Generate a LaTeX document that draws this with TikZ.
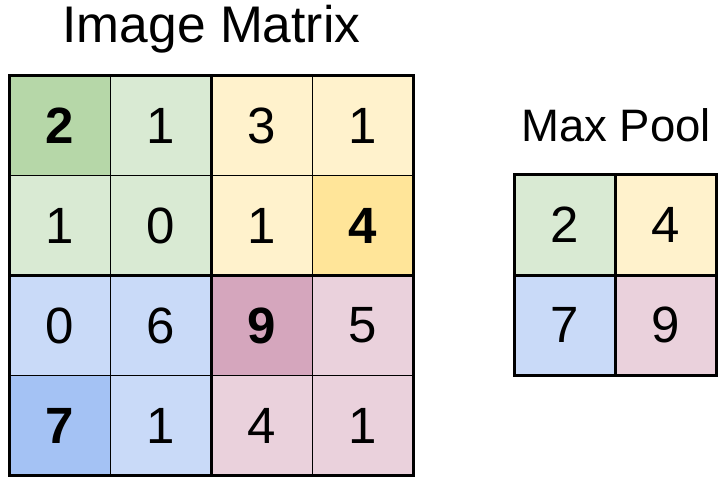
\documentclass[tikz,border=0pt]{standalone}
\usepackage{fontspec}
\setmainfont{Liberation Sans}
\definecolor{gA}{HTML}{D9EAD3}
\definecolor{gB}{HTML}{B6D7A8}
\definecolor{yA}{HTML}{FFF2CC}
\definecolor{yB}{HTML}{FFE599}
\definecolor{bA}{HTML}{C9DAF8}
\definecolor{bB}{HTML}{A4C2F4}
\definecolor{pA}{HTML}{EAD1DC}
\definecolor{pB}{HTML}{D5A6BD}
\begin{document}
\begin{tikzpicture}[x=1bp,y=-1bp,
  cell/.style={minimum width=101bp, minimum height=100bp, inner sep=0pt, outer sep=0pt,
    anchor=center, font=\fontsize{51bp}{60bp}\selectfont},
  thinline/.style={line width=1.5bp, black},
  thickline/.style={line width=3bp, black},
  title/.style={anchor=base, inner sep=0pt}]
\useasboundingbox (0,0) rectangle (725,488);
% image matrix
\node[cell, fill=gB] (m11) at (60,125.5) {\textbf{2}};
\node[cell, fill=gA] (m12) at (161,125.5) {1};
\node[cell, fill=yA] (m13) at (262,125.5) {3};
\node[cell, fill=yA] (m14) at (363,125.5) {1};
\node[cell, fill=gA] (m21) at (60,225.5) {1};
\node[cell, fill=gA] (m22) at (161,225.5) {0};
\node[cell, fill=yA] (m23) at (262,225.5) {1};
\node[cell, fill=yB] (m24) at (363,225.5) {\textbf{4}};
\node[cell, fill=bA] (m31) at (60,325.5) {0};
\node[cell, fill=bA] (m32) at (161,325.5) {6};
\node[cell, fill=pB] (m33) at (262,325.5) {\textbf{9}};
\node[cell, fill=pA] (m34) at (363,325.5) {5};
\node[cell, fill=bB] (m41) at (60,425.5) {\textbf{7}};
\node[cell, fill=bA] (m42) at (161,425.5) {1};
\node[cell, fill=pA] (m43) at (262,425.5) {4};
\node[cell, fill=pA] (m44) at (363,425.5) {1};
% thin grid lines
\draw[thinline] (m11.north east) -- (m41.south east);
\draw[thinline] (m13.north east) -- (m43.south east);
\draw[thinline] (m11.south west) -- (m14.south east);
\draw[thinline] (m31.south west) -- (m34.south east);
% thick lines
\draw[thickline] (m12.north east) -- (m42.south east);
\draw[thickline] (m21.south west) -- (m24.south east);
\draw[thickline] (m11.north west) rectangle (m44.south east);
% max pool
\node[cell, fill=gA] (p11) at (564.5,225) {2};
\node[cell, fill=yA] (p12) at (665.5,225) {4};
\node[cell, fill=bA] (p21) at (564.5,325) {7};
\node[cell, fill=pA] (p22) at (665.5,325) {9};
\draw[thickline] (p11.north east) -- (p21.south east);
\draw[thickline] (p11.south west) -- (p12.south east);
\draw[thickline] (p11.north west) rectangle (p22.south east);
% titles
\node[title, font=\fontsize{51.5bp}{60bp}\selectfont] (t1) at (211.5,43) {Image Matrix};
\node[title, font=\fontsize{45.5bp}{54bp}\selectfont] (t2) at (616,142) {Max Pool};
\end{tikzpicture}
\end{document}
